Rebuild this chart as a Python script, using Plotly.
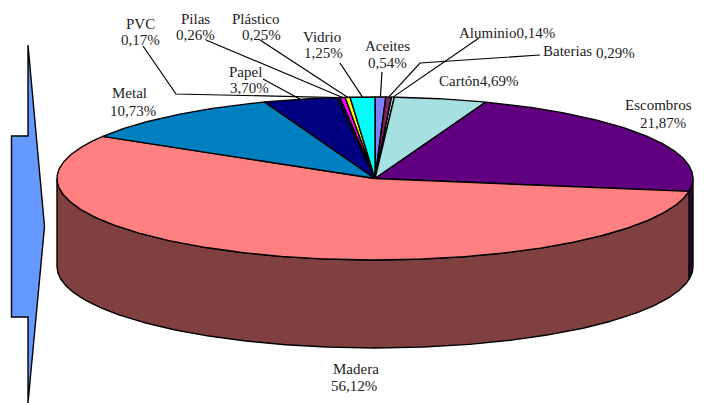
import math
import plotly.graph_objects as go

# ---- data -------------------------------------------------------------
categories = ["Aceites", "Baterias", "Aluminio", "Cartón", "Escombros", "Madera",
              "Metal", "Papel", "PVC", "Pilas", "Plástico", "Vidrio"]
values = [0.54, 0.29, 0.14, 4.69, 21.87, 56.12, 10.73, 3.70, 0.17, 0.26, 0.25, 1.25]
colors = ["#8080FF", "#7F2060", "#A6E0E0", "#A6E0E0", "#600080", "#FF8080",
          "#0080C0", "#000080", "#000080", "#FF00FF", "#FFFF00", "#00FFFF"]
wall_colors = ["#404080", "#401030", "#537070", "#537070", "#300040", "#804040",
               "#004060", "#000040", "#000040", "#800080", "#808000", "#008080"]

# ---- pie geometry (pixels) --------------------------------------------
CX, CY, RX, RY, DEPTH = 375.0, 178.5, 318.0, 81.5, 88.0
LINE = 1.4
W, H = 704, 403


def point(deg, drop=0.0):
    r = math.radians(deg)
    return CX + RX * math.sin(r), CY - RY * math.cos(r) + drop


def arc(a0, a1, drop=0.0):
    n = max(2, int(abs(a1 - a0) / 0.5) + 1)
    return [point(a0 + (a1 - a0) * i / (n - 1), drop) for i in range(n)]


total = sum(values)
edges = [0.0]
for v in values:
    edges.append(edges[-1] + v / total * 360.0)


def mid(name):
    i = categories.index(name)
    return (edges[i] + edges[i + 1]) / 2


fig = go.Figure()


def poly(pts, fill, name):
    xs = [p[0] for p in pts] + [pts[0][0]]
    ys = [p[1] for p in pts] + [pts[0][1]]
    fig.add_trace(go.Scatter(x=xs, y=ys, mode="lines", fill="toself", fillcolor=fill,
                             line=dict(color="black", width=LINE), name=name,
                             hoverinfo="name", showlegend=False))


# side wall: only the front half of the cylinder shows
for i, name in enumerate(categories):
    a0, a1 = max(edges[i], 90.0), min(edges[i + 1], 270.0)
    if a1 > a0:
        poly(arc(a0, a1) + arc(a1, a0, DEPTH), wall_colors[i], name)

# top face
for i, name in enumerate(categories):
    poly([(CX, CY)] + arc(edges[i], edges[i + 1]), colors[i], name)

# ---- leader lines: text anchor, optional elbow, then the slice edge ----
leaders = {
    "PVC": [(143, 46), (176, 94)],
    "Pilas": [(206, 40)],
    "Plástico": [(260, 40)],
    "Vidrio": [(340, 63)],
    "Papel": [(263, 79)],
    "Aceites": [(382, 72)],
    "Aluminio": [(479, 38)],
    "Baterias": [(540, 55), (420, 63)],
}
for name, pts in leaders.items():
    end = point(mid(name))
    line = pts + [end]
    fig.add_trace(go.Scatter(x=[p[0] for p in line], y=[p[1] for p in line], mode="lines",
                             line=dict(color="black", width=1.2), hoverinfo="skip",
                             showlegend=False))

# ---- labels ------------------------------------------------------------
label_lines = [
    ("PVC", 140, 23.5), ("0,17%", 140, 39.5),
    ("Pilas", 195, 18.5), ("0,26%", 195, 34.5),
    ("Plástico", 256, 19), ("0,25%", 261, 35),
    ("Vidrio", 322, 37), ("1,25%", 323, 53),
    ("Papel", 245, 71.5), ("3,70%", 249, 87.5),
    ("Metal", 129, 93), ("10,73%", 133, 111),
    ("Aceites", 387, 46), ("0,54%", 387, 63),
    ("Aluminio0,14%", 507, 33),
    ("Baterias", 567, 51), ("0,29%", 615, 53),
    ("Cartón4,69%", 479, 81),
    ("Escombros", 658, 105), ("21,87%", 663, 123),
    ("Madera", 356, 369), ("56,12%", 354, 386),
]
annotations = [dict(x=x, y=y, text=t, showarrow=False, xanchor="center", yanchor="middle",
                    font=dict(family="Liberation Serif", size=15, color="#222222"))
               for t, x, y in label_lines]

arrow = "M28,45 L44.5,226.5 L28,403 L28,317 L11.5,317 L11.5,136 L28,136 Z"

fig.update_layout(
    width=W, height=H, margin=dict(l=0, r=0, t=0, b=0),
    paper_bgcolor="white", plot_bgcolor="white", showlegend=False,
    xaxis=dict(range=[0, W], visible=False, fixedrange=True),
    yaxis=dict(range=[H, 0], visible=False, fixedrange=True),
    annotations=annotations,
    shapes=[dict(type="path", path=arrow, fillcolor="#6699FF",
                 line=dict(color="black", width=1.4), layer="below")],
)
fig.write_html("out.html", config={"displayModeBar": False},
               post_script="document.body.style.margin='0';document.documentElement.style.overflow='hidden';")
